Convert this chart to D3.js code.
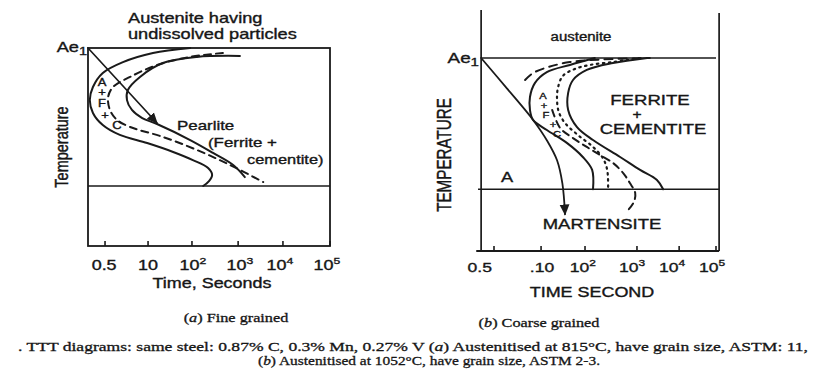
<!DOCTYPE html>
<html>
<head>
<meta charset="utf-8">
<script src="https://cdn.jsdelivr.net/npm/d3@7"></script>
<style>
  body { margin: 0; background: #fff; }
  svg { display: block; }
  text { font-family: "Liberation Sans", Arial, sans-serif; fill: #161616; stroke: #161616; stroke-width: 0.35px; }
  text.serif { font-family: "Liberation Serif", "Times New Roman", serif; stroke-width: 0.3px; }
</style>
</head>
<body>
<div id="chart"></div>
<script>
// time axis: one unit per decade mark (0.5, 10, 10^2 ... 10^5), temperature in % of Ae1
const tickPosA = [-0.02, 0.94, 1.92, 2.95, 3.95, 5];
const tickLabelA = ["0.5", "10", "10", "10", "10", "10"];
const tickExpA = ["", "", "2", "3", "4", "5"];
const labelPosA = [-0.04, 0.94, 1.94, 2.99, 3.88, 4.93];

const tickPosB = [0, 1.06, 2.05, 3.22, 4.17, 5];
const tickLabelB = ["0.5", ".10", "10", "10", "10", "10"];
const tickExpB = ["", "", "2", "3", "4", "5"];
const labelPosB = [-0.32, 1.08, 2.0, 3.11, 4.01, 4.91];

const msTempA = 30.3;   // lower horizontal line, fine grained
const msTempB = 32;     // lower horizontal line (A / martensite), coarse grained

// (a) fine grained curves  [time position, temperature]
const fineStart = [[1.88, 100], [1.05, 97.5], [0.38, 92.9], [-0.07, 87.4], [-0.29, 80.3], [-0.36, 73.7],
  [-0.29, 67.2], [-0.07, 61.1], [0.31, 56.1], [0.92, 52], [1.5, 47.5], [1.94, 43.4], [2.28, 39.4],
  [2.37, 35.9], [2.3, 32.8], [2.17, 30.3]];
const fineMid = [[2.61, 97.5], [1.88, 95.5], [1.14, 91.4], [0.54, 85.4], [0.16, 80.3], [0.05, 75.3],
  [0.09, 68.7], [0.25, 63.6], [0.54, 60.1], [1.27, 55.1], [2.03, 48.5], [2.77, 40.9], [3.51, 32.3]];
const fineEnd = [[2.99, 96], [2.03, 95.5], [1.27, 92.4], [0.76, 85.4], [0.49, 78.8], [0.47, 73.7],
  [0.58, 68.7], [0.81, 64.6], [1.14, 61.6], [1.88, 53.5], [2.39, 47], [2.84, 40.9], [3.1, 34.8]];
const fineCooling = [[-0.4, 100], [1.14, 62.1]];

// (b) coarse grained curves
const coarseStart = [[2.27, 100], [1.71, 96.4], [1.19, 92.7], [0.92, 87], [0.81, 79.8], [0.81, 73.1],
  [0.88, 67.9], [1.19, 62.7], [1.64, 56], [2.0, 48.7], [2.21, 42], [2.23, 32]];
const coarseDotted = [[3.29, 100], [2.68, 97.9], [2.16, 96.4], [1.82, 94.3], [1.55, 90.7], [1.44, 84.5],
  [1.42, 78.2], [1.46, 72], [1.6, 66.3], [1.89, 60.1], [2.23, 53.9], [2.45, 48.2], [2.55, 42], [2.57, 32.6]];
const coarseDashTop = [[0.7, 88.6], [0.88, 92.2], [1.22, 95.3], [1.71, 97.9], [2.39, 99.2], [3.51, 100]];
const coarseDashLow = [[1.31, 73.1], [1.49, 63.7], [1.78, 58.5], [2.09, 53.9], [2.39, 49.7], [2.68, 45.6],
  [2.91, 40.4], [3.06, 35.2], [3.18, 30.1], [3.15, 25.4], [3.02, 21.2]];
const coarseEnd = [[3.45, 100], [2.68, 97.4], [2.09, 93.8], [1.78, 88.6], [1.67, 81.9], [1.67, 73.1],
  [1.87, 64.2], [2.23, 57.5], [2.84, 48.7], [3.29, 42], [3.67, 36.8], [3.81, 32]];
const coarseCooling = [[-0.29, 100], [0.3, 84], [0.88, 67.9], [1.2, 57], [1.42, 47], [1.54, 35], [1.6, 19]];

const W = 828, H = 374;
const ink = "#1a1a1a";
const sx = 1.3; // scanned figure is stretched sideways

const svg = d3.select("#chart").append("svg")
  .attr("width", W)
  .attr("height", H);

const defs = svg.append("defs");
defs.append("marker")
  .attr("id", "head")
  .attr("viewBox", "0 0 10 10")
  .attr("refX", 9).attr("refY", 5)
  .attr("markerUnits", "userSpaceOnUse")
  .attr("markerWidth", 11).attr("markerHeight", 11)
  .attr("orient", "auto")
  .append("path")
  .attr("d", "M0,0.5 L10,5 L0,9.5 Z")
  .attr("fill", ink);

const xA = d3.scaleLinear().domain([-0.4, 5]).range([88, 330]);
const yA = d3.scaleLinear().domain([0, 100]).range([246, 48]);
const xB = d3.scaleLinear().domain([0, 5]).range([494, 716]);
const yB = d3.scaleLinear().domain([0, 100]).range([251, 58]);

// text helper: parts is a string or list of [text, "sup"|"sub"|"it"|""]
function label(x, y, parts, size, opt = {}) {
  const tf = opt.rotate
    ? `translate(${x},${y}) rotate(${opt.rotate}) scale(1,${sx})`
    : `translate(${x},${y}) scale(${opt.sx || sx},1)`;
  const t = svg.append("g").attr("transform", tf)
    .append("text")
    .attr("text-anchor", opt.anchor || "middle")
    .style("font-size", size + "px");
  if (opt.cls) t.attr("class", opt.cls);
  if (typeof parts === "string") parts = [[parts, ""]];
  parts.forEach(([s, kind]) => {
    const ts = t.append("tspan").text(s);
    if (kind === "sup") ts.attr("dy", -size * 0.42).style("font-size", (size * 0.68) + "px");
    if (kind === "sub") ts.attr("dy", size * 0.2).style("font-size", (size * 0.8) + "px");
    if (kind === "it") ts.style("font-style", "italic");
  });
  return t;
}

function curve(x, y, pts, style) {
  const line = d3.line()
    .x(d => x(d[0]))
    .y(d => y(d[1]))
    .curve(d3.curveCatmullRom.alpha(0.5));
  const p = svg.append("path")
    .attr("d", line(pts))
    .attr("fill", "none")
    .attr("stroke", ink)
    .attr("stroke-width", style.width || 2)
    .attr("stroke-linecap", "round");
  if (style.dash) p.attr("stroke-dasharray", style.dash);
  if (style.arrow) p.attr("marker-end", "url(#head)");
  return p;
}

function seg(x1, y1, x2, y2, w = 1.7) {
  svg.append("line")
    .attr("x1", x1).attr("y1", y1).attr("x2", x2).attr("y2", y2)
    .attr("stroke", ink).attr("stroke-width", w);
}

// ---------- (a) fine grained ----------
svg.append("rect")
  .attr("x", xA(-0.4)).attr("y", yA(100))
  .attr("width", xA(5) - xA(-0.4)).attr("height", yA(0) - yA(100))
  .attr("fill", "none").attr("stroke", ink).attr("stroke-width", 1.8);
seg(xA(-0.4), yA(msTempA), xA(5), yA(msTempA));

tickPosA.forEach(p => seg(xA(p), yA(0), xA(p), yA(0) - 5, 1.6));
tickLabelA.forEach((s, i) => {
  const parts = tickExpA[i] ? [[s, ""], [tickExpA[i], "sup"]] : s;
  label(xA(labelPosA[i]), 270, parts, 13.8);
});

curve(xA, yA, fineStart, {});
curve(xA, yA, fineMid, { dash: "7,5" });
curve(xA, yA, fineEnd, {});
curve(xA, yA, fineCooling, { width: 1.7, arrow: true });

label(128, 23, "Austenite having", 14, { anchor: "start" });
label(128, 39, "undissolved particles", 14, { anchor: "start" });
label(87, 52, [["Ae", ""], ["1", "sub"]], 14, { anchor: "end" });
label(68, 147, "Temperature", 14.5, { rotate: -90 });
label(177, 130, "Pearlite", 13, { anchor: "start" });
label(208, 147, "(Ferrite +", 13, { anchor: "start" });
label(247, 164, "cementite)", 12.6, { anchor: "start" });
[["A", 102, 86], ["+", 102, 96], ["F", 102, 107], ["+", 105, 119], ["C", 117, 129]]
  .forEach(([s, x, y]) => label(x, y, s, 10));
label(212, 288, "Time, Seconds", 13.8);

// ---------- (b) coarse grained ----------
seg(xB(-0.29), 10, xB(-0.29), yB(0));
seg(xB(5.07), 13, xB(5.07), yB(0));
seg(xB(-0.29), yB(100), xB(5.0), yB(100));
seg(xB(-0.36), yB(msTempB), xB(5.07), yB(msTempB));
seg(xB(-0.4), yB(0), xB(5.07), yB(0), 1.9);

tickPosB.forEach(p => seg(xB(p), yB(0), xB(p), yB(0) - 5, 1.6));
tickLabelB.forEach((s, i) => {
  const parts = tickExpB[i] ? [[s, ""], [tickExpB[i], "sup"]] : s;
  label(xB(labelPosB[i]), 272, parts, 13.5);
});

curve(xB, yB, coarseStart, {});
curve(xB, yB, coarseDotted, { dash: "1.5,4.5", width: 2.2 });
curve(xB, yB, coarseDashTop, { dash: "8,6" });
curve(xB, yB, coarseDashLow, { dash: "7,5" });
curve(xB, yB, coarseEnd, {});
curve(xB, yB, coarseCooling, { width: 1.8, arrow: true });

label(581, 41, "austenite", 12, { sx: 1.25 });
label(479, 63, [["Ae", ""], ["1", "sub"]], 14.5, { anchor: "end" });
label(451, 155, "TEMPERATURE", 15.2, { rotate: -90 });
label(650, 105, "FERRITE", 14.3);
label(637, 119, "+", 12);
label(653, 134, "CEMENTITE", 14.2);
label(507, 182, "A", 14);
[["A", 543, 99], ["+", 544, 108.5], ["F", 546, 118], ["+", 553, 127.5], ["C", 557, 137]]
  .forEach(([s, x, y]) => label(x, y, s, 8.6));
label(602, 229, "MARTENSITE", 14.2);
label(592, 297, "TIME SECOND", 13.8);

// ---------- captions ----------
label(236, 322, [["(", ""], ["a", "it"], [")  Fine grained", ""]], 12.5, { cls: "serif" });
label(539, 327, [["(", ""], ["b", "it"], [") Coarse grained", ""]], 12.5, { cls: "serif" });

const cap1 = svg.append("text").attr("class", "serif")
  .attr("x", 18).attr("y", 351)
  .attr("textLength", 790).attr("lengthAdjust", "spacingAndGlyphs")
  .style("font-size", "13px");
cap1.append("tspan").text(". TTT diagrams: same steel: 0.87% C, 0.3% Mn, 0.27% V (");
cap1.append("tspan").text("a").style("font-style", "italic");
cap1.append("tspan").text(") Austenitised at 815°C, have grain size, ASTM: 11,");

const cap2 = svg.append("text").attr("class", "serif")
  .attr("x", 258).attr("y", 365)
  .attr("textLength", 342).attr("lengthAdjust", "spacingAndGlyphs")
  .style("font-size", "13px");
cap2.append("tspan").text("(");
cap2.append("tspan").text("b").style("font-style", "italic");
cap2.append("tspan").text(") Austenitised at 1052°C, have grain size, ASTM 2-3.");
</script>
</body>
</html>
